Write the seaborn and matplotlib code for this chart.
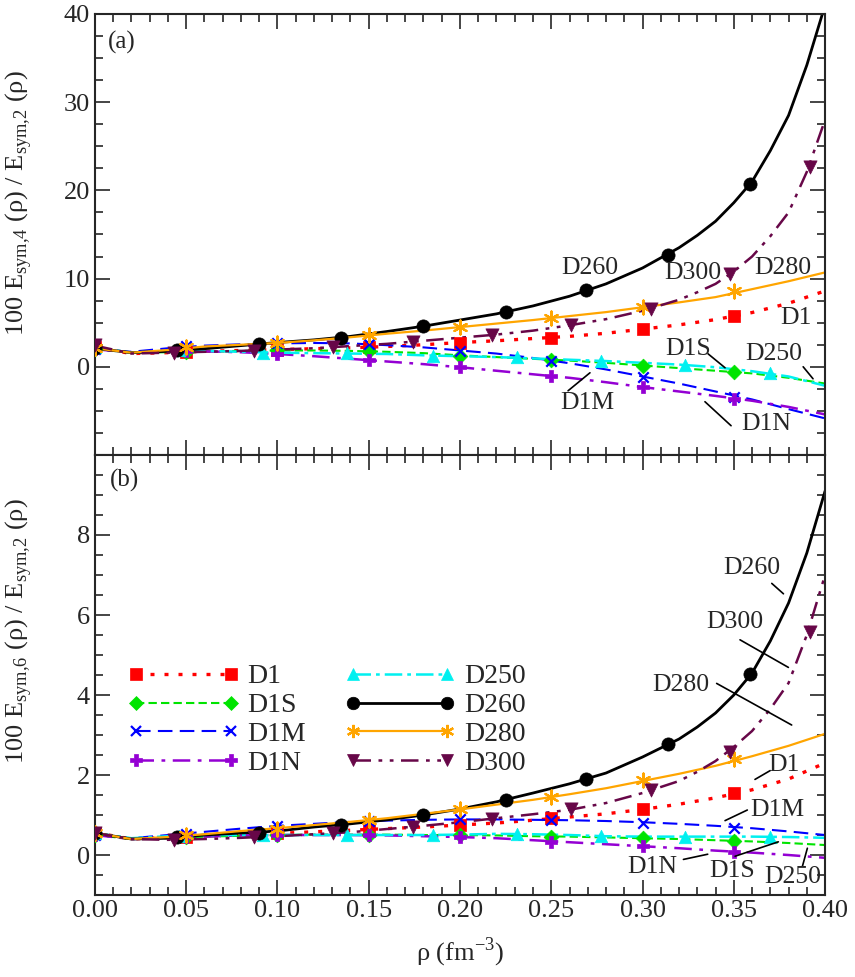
import matplotlib
matplotlib.use("Agg")
import matplotlib.pyplot as plt
from matplotlib.lines import Line2D
from matplotlib.ticker import MultipleLocator, FixedLocator
import seaborn as sns

# density grid for the curves (fm^-3)
RHO = [0.00, 0.02, 0.04, 0.06, 0.08, 0.10, 0.12, 0.14, 0.16, 0.18, 0.20,
       0.22, 0.24, 0.26, 0.28, 0.30, 0.32, 0.34, 0.36, 0.38, 0.40]
# finer grid for the two steeply rising curves
RHO_STEEP = [0.00, 0.02, 0.04, 0.06, 0.08, 0.10, 0.12, 0.14, 0.16, 0.18, 0.20,
             0.22, 0.24, 0.26, 0.28, 0.30, 0.32, 0.33, 0.34, 0.35, 0.36,
             0.37, 0.38, 0.39, 0.40]

MODELS = ['D1', 'D1S', 'D1M', 'D1N', 'D250', 'D260', 'D280', 'D300']
STEEP = ['D260', 'D300']

# panel (a): 100 Esym,4 / Esym,2
A_D1 = [2.2, 1.5, 1.6, 1.75, 1.85, 1.95, 2.05, 2.15, 2.3, 2.5, 2.75,
        2.95, 3.2, 3.45, 3.8, 4.27, 4.75, 5.35, 6.15, 7.2, 8.6]
A_D1S = [2.0, 1.6, 1.65, 1.75, 1.8, 1.85, 1.85, 1.8, 1.7, 1.55, 1.3,
         1.1, 0.9, 0.7, 0.45, 0.15, -0.15, -0.45, -0.75, -1.25, -1.9]
A_D1M = [2.0, 1.7, 2.1, 2.4, 2.55, 2.65, 2.7, 2.65, 2.45, 2.2, 1.85,
         1.5, 1.0, 0.4, -0.3, -1.1, -1.9, -2.8, -3.7, -4.8, -5.85]
A_D1N = [2.0, 1.6, 1.7, 1.75, 1.65, 1.45, 1.2, 0.9, 0.6, 0.3, -0.05,
         -0.45, -0.85, -1.25, -1.75, -2.3, -2.8, -3.3, -3.85, -4.55, -5.4]
A_D250 = [2.2, 1.6, 1.8, 1.8, 1.7, 1.6, 1.55, 1.5, 1.45, 1.3, 1.2,
          1.1, 0.95, 0.8, 0.65, 0.45, 0.25, -0.05, -0.5, -1.1, -2.15]
A_D260 = [2.1, 1.6, 1.75, 2.05, 2.4, 2.75, 3.05, 3.45, 4.0, 4.6, 5.3,
          6.0, 6.9, 8.0, 9.4, 11.2, 13.5, 14.9, 16.5, 18.6, 21.0,
          24.5, 28.5, 34.2, 41.0]
A_D280 = [2.1, 1.6, 1.9, 2.3, 2.5, 2.7, 3.0, 3.35, 3.75, 4.1, 4.5,
          4.9, 5.3, 5.75, 6.2, 6.75, 7.3, 7.9, 8.8, 9.7, 10.7]
A_D300 = [2.4, 1.5, 1.6, 1.7, 1.8, 1.95, 2.1, 2.35, 2.6, 2.95, 3.3,
          3.65, 4.1, 4.7, 5.4, 6.35, 7.6, 8.45, 9.4, 10.8, 12.5,
          14.8, 17.5, 22.1, 28.0]

# panel (b): 100 Esym,6 / Esym,2
B_D1 = [0.56, 0.4, 0.44, 0.48, 0.51, 0.54, 0.58, 0.62, 0.66, 0.7, 0.75,
        0.8, 0.87, 0.95, 1.03, 1.14, 1.27, 1.43, 1.63, 1.9, 2.3]
B_D1S = [0.5, 0.4, 0.43, 0.46, 0.48, 0.5, 0.51, 0.51, 0.51, 0.5, 0.5,
         0.49, 0.47, 0.46, 0.44, 0.42, 0.4, 0.37, 0.34, 0.3, 0.25]
B_D1M = [0.5, 0.42, 0.5, 0.58, 0.66, 0.73, 0.78, 0.83, 0.86, 0.88, 0.89,
         0.89, 0.88, 0.87, 0.85, 0.82, 0.78, 0.73, 0.67, 0.59, 0.5]
B_D1N = [0.5, 0.4, 0.43, 0.46, 0.49, 0.5, 0.5, 0.5, 0.49, 0.47, 0.45,
         0.42, 0.37, 0.32, 0.27, 0.22, 0.17, 0.11, 0.06, 0.0, -0.07]
B_D250 = [0.55, 0.42, 0.47, 0.5, 0.5, 0.5, 0.5, 0.5, 0.5, 0.5, 0.51,
          0.53, 0.52, 0.5, 0.47, 0.46, 0.46, 0.46, 0.46, 0.45, 0.43]
B_D260 = [0.55, 0.4, 0.42, 0.5, 0.55, 0.6, 0.7, 0.78, 0.88, 1.0, 1.15,
          1.33, 1.55, 1.78, 2.05, 2.45, 2.9, 3.2, 3.55, 4.0, 4.55,
          5.35, 6.3, 7.55, 9.1]
B_D280 = [0.55, 0.4, 0.45, 0.52, 0.6, 0.67, 0.75, 0.83, 0.92, 1.03, 1.14,
          1.26, 1.38, 1.52, 1.67, 1.85, 2.03, 2.23, 2.47, 2.73, 3.03]
B_D300 = [0.55, 0.4, 0.38, 0.4, 0.43, 0.47, 0.52, 0.57, 0.65, 0.73, 0.82,
          0.92, 1.02, 1.13, 1.3, 1.55, 1.85, 2.08, 2.35, 2.7, 3.1,
          3.65, 4.3, 5.5, 7.0]

# symbol positions along each curve
MK_STEP50 = [0.0, 0.05, 0.10, 0.15, 0.20, 0.25, 0.30, 0.35]
MK_D250 = [0.0, 0.046, 0.092, 0.138, 0.185, 0.231, 0.277, 0.323, 0.370]
MK_D260 = [0.0, 0.045, 0.090, 0.135, 0.180, 0.225, 0.269, 0.314, 0.359]
MK_D300 = [0.0, 0.0435, 0.087, 0.1305, 0.174, 0.2175, 0.261, 0.3045, 0.348, 0.392]

A_MK_D1 = [2.2, 1.7, 1.9, 2.2, 2.75, 3.3, 4.27, 5.78]
A_MK_D1S = [2.0, 1.7, 1.85, 1.8, 1.25, 0.76, 0.11, -0.64]
A_MK_D1M = [2.0, 2.38, 2.65, 2.57, 1.81, 0.6, -1.2, -3.4]
A_MK_D1N = [2.0, 1.75, 1.43, 0.76, -0.08, -1.1, -2.34, -3.66]
A_MK_D250 = [2.19, 1.9, 1.6, 1.55, 1.25, 1.06, 0.68, 0.19, -0.76]
A_MK_D260 = [2.1, 1.9, 2.57, 3.32, 4.6, 6.23, 8.69, 12.7, 20.7]
A_MK_D280 = [2.1, 2.19, 2.68, 3.59, 4.53, 5.58, 6.83, 8.6]
A_MK_D300 = [2.45, 1.6, 1.8, 2.19, 2.83, 3.59, 4.76, 6.6, 10.5, 22.7]

B_MK_D1 = [0.56, 0.46, 0.54, 0.64, 0.75, 0.92, 1.14, 1.54]
B_MK_D1S = [0.5, 0.45, 0.5, 0.51, 0.5, 0.46, 0.42, 0.35]
B_MK_D1M = [0.5, 0.53, 0.73, 0.85, 0.89, 0.88, 0.81, 0.68]
B_MK_D1N = [0.5, 0.45, 0.5, 0.5, 0.45, 0.33, 0.22, 0.08]
B_MK_D250 = [0.55, 0.48, 0.5, 0.5, 0.5, 0.52, 0.47, 0.46, 0.46]
B_MK_D260 = [0.55, 0.46, 0.54, 0.75, 1.0, 1.375, 1.89, 2.77, 4.52]
B_MK_D280 = [0.55, 0.5, 0.65, 0.875, 1.15, 1.46, 1.875, 2.39]
B_MK_D300 = [0.55, 0.375, 0.44, 0.54, 0.71, 0.9, 1.14, 1.625, 2.58, 5.58]

XTICKS = [0.00, 0.05, 0.10, 0.15, 0.20, 0.25, 0.30, 0.35, 0.40]
XTICKLABELS = ['0.00', '0.05', '0.10', '0.15', '0.20', '0.25', '0.30', '0.35', '0.40']

# styles: colour, dash pattern, linewidth, marker, marker size (points)
STYLE = {
    'D1':   ('#ff0000', (0, (1.2, 3.0)), 2.4, 's', 8.5),
    'D1S':  ('#00e400', (0, (4, 2)), 1.5, 'D', 7.5),
    'D1M':  ('#0000ff', (0, (7, 3.5)), 1.5, 'x', 7.5),
    'D1N':  ('#9400d3', (0, (7, 3, 1.5, 3)), 1.8, 'P', 9),
    'D250': ('#00f0f0', (0, (7, 2, 1.5, 2)), 1.8, '^', 9),
    'D260': ('#000000', '-', 2.0, 'o', 9.5),
    'D280': ('#ffa500', '-', 1.6, (6, 2, 0), 10),
    'D300': ('#670748', (0, (7, 3, 1.5, 3, 1.5, 3)), 1.8, 'v', 9.5),
}
FILLED = ('s', 'D', '^', 'v', 'o', 'P')

panel_a = {'D1': (A_D1, MK_STEP50, A_MK_D1), 'D1S': (A_D1S, MK_STEP50, A_MK_D1S),
           'D1M': (A_D1M, MK_STEP50, A_MK_D1M), 'D1N': (A_D1N, MK_STEP50, A_MK_D1N),
           'D250': (A_D250, MK_D250, A_MK_D250), 'D260': (A_D260, MK_D260, A_MK_D260),
           'D280': (A_D280, MK_STEP50, A_MK_D280), 'D300': (A_D300, MK_D300, A_MK_D300)}
panel_b = {'D1': (B_D1, MK_STEP50, B_MK_D1), 'D1S': (B_D1S, MK_STEP50, B_MK_D1S),
           'D1M': (B_D1M, MK_STEP50, B_MK_D1M), 'D1N': (B_D1N, MK_STEP50, B_MK_D1N),
           'D250': (B_D250, MK_D250, B_MK_D250), 'D260': (B_D260, MK_D260, B_MK_D260),
           'D280': (B_D280, MK_STEP50, B_MK_D280), 'D300': (B_D300, MK_D300, B_MK_D300)}

sns.set_style("ticks")
plt.rcParams['font.family'] = ['Liberation Serif', 'DejaVu Serif']
plt.rcParams['mathtext.fontset'] = 'custom'
plt.rcParams['mathtext.rm'] = 'Liberation Serif'
plt.rcParams['axes.linewidth'] = 1.5
FS_TICK = 19
FS_NOTE = 18.5
FS_LEG = 20

fig = plt.figure(figsize=(8.55, 9.77), dpi=100)
ax_a = fig.add_axes([0.111, 0.5343, 0.854, 0.4514])
ax_b = fig.add_axes([0.111, 0.0839, 0.854, 0.4504])


def draw_panel(ax, data):
    for name in MODELS:
        vals, mx, my = data[name]
        color, ls, lw, marker, ms = STYLE[name]
        xs = RHO_STEEP if name in STEEP else RHO
        sns.lineplot(x=xs, y=vals, ax=ax, color=color, linestyle=ls,
                     linewidth=lw, zorder=2)
        sns.scatterplot(x=mx, y=my, ax=ax, marker=marker, s=ms ** 2,
                        color=color, edgecolor=color,
                        linewidth=0.5 if marker in FILLED else 1.6, zorder=3)


def style_axes(ax):
    ax.set_xlim(0, 0.4)
    ax.xaxis.set_major_locator(FixedLocator(XTICKS))
    ax.xaxis.set_minor_locator(MultipleLocator(0.01))
    ax.tick_params(which='both', direction='in', top=True, right=True,
                   labelsize=FS_TICK, width=1.2)
    ax.tick_params(which='major', length=11)
    ax.tick_params(which='minor', length=5.5)
    ax.set_xlabel('')
    ax.set_ylabel('')


def label(ax, text, xy, lead=None):
    ax.text(xy[0], xy[1], text, fontsize=FS_NOTE, ha='center', va='center', zorder=5)
    if lead is not None:
        ax.annotate('', xy=lead[1], xytext=lead[0],
                    arrowprops=dict(arrowstyle='-', color='black', lw=1.2,
                                    shrinkA=0, shrinkB=0))


YLAB = r'100 E$_\mathregular{sym{,}%d}$ ($\mathregular{\rho}$) / E$_\mathregular{sym{,}2}$ ($\mathregular{\rho}$)'

# ---- panel (a)
draw_panel(ax_a, panel_a)
style_axes(ax_a)
ax_a.set_ylim(-10, 40)
ax_a.yaxis.set_major_locator(FixedLocator([0, 10, 20, 30, 40]))
ax_a.yaxis.set_minor_locator(MultipleLocator(2.5))
ax_a.set_xticklabels([])
ax_a.text(0.018, 0.936, '(a)', transform=ax_a.transAxes, fontsize=18,
          ha='left', va='center')
ax_a.set_ylabel(YLAB % 4, fontsize=FS_TICK)
ax_a.yaxis.set_label_coords(-0.083, 0.57)

label(ax_a, 'D260', (0.2712, 11.2))
label(ax_a, 'D300', (0.3277, 10.6))
label(ax_a, 'D280', (0.377, 11.2))
label(ax_a, 'D1', (0.3841, 5.55))
label(ax_a, 'D1S', (0.325, 2.04), ((0.3359, 1.47), (0.3452, -0.11)))
label(ax_a, 'D250', (0.372, 1.47), ((0.388, 0.0), (0.3934, -1.36)))
label(ax_a, 'D1M', (0.2696, -4.08), ((0.2592, -2.72), (0.2712, -0.68)))
label(ax_a, 'D1N', (0.3677, -6.46), ((0.3485, -6.68), (0.3342, -3.96)))

# ---- panel (b)
draw_panel(ax_b, panel_b)
style_axes(ax_b)
ax_b.set_ylim(-1, 10)
ax_b.yaxis.set_major_locator(FixedLocator([0, 2, 4, 6, 8]))
ax_b.yaxis.set_minor_locator(MultipleLocator(0.5))
ax_b.set_xticklabels(XTICKLABELS)
ax_b.text(0.0205, 0.943, '(b)', transform=ax_b.transAxes, fontsize=18,
          ha='left', va='center')
ax_b.set_ylabel(YLAB % 6, fontsize=FS_TICK)
ax_b.yaxis.set_label_coords(-0.083, 0.6)
ax_b.set_xlabel(r'$\mathregular{\rho}$ (fm$^\mathregular{-3}$)', fontsize=FS_TICK, labelpad=10)

label(ax_b, 'D260', (0.3598, 7.17), ((0.3708, 6.79), (0.3772, 6.53)))
label(ax_b, 'D300', (0.3507, 5.83), ((0.3534, 5.38), (0.3799, 4.69)))
label(ax_b, 'D280', (0.3208, 4.25), ((0.3406, 4.29), (0.3817, 3.25)))
label(ax_b, 'D1', (0.3775, 2.25), ((0.3616, 1.89), (0.3699, 2.11)))
label(ax_b, 'D1M', (0.3737, 1.125), ((0.3452, 0.86), (0.3574, 1.125)))
label(ax_b, 'D1N', (0.3055, -0.29), ((0.3224, -0.11), (0.3357, 0.02)))
label(ax_b, 'D1S', (0.349, -0.39), ((0.3507, -0.03), (0.3744, 0.33)))
label(ax_b, 'D250', (0.3824, -0.56), ((0.3876, -0.28), (0.3903, 0.17)))

handles = []
for name in MODELS:
    color, ls, lw, marker, ms = STYLE[name]
    handles.append(Line2D([], [], color=color, linestyle=ls, linewidth=lw,
                          marker=marker, markersize=ms * 0.95,
                          markeredgewidth=0.5 if marker in FILLED else 1.6,
                          markerfacecolor=color, markeredgecolor=color,
                          label=name))
ax_b.legend(handles=handles, ncol=2, loc='upper left',
            bbox_to_anchor=(0.045, 0.525), frameon=False, fontsize=FS_LEG,
            numpoints=2, handlelength=4.0, handletextpad=0.3,
            columnspacing=1.4, labelspacing=0.12, borderpad=0,
            borderaxespad=0)

fig.savefig('out.png', dpi=100)
